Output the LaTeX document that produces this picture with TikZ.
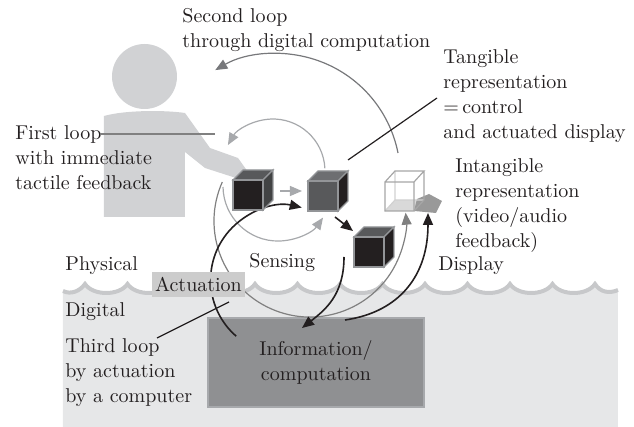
\documentclass[tikz,border=0pt]{standalone}
\usepackage{tikz}
\usetikzlibrary{positioning}
\usetikzlibrary{arrows.meta}

\definecolor{ink}{HTML}{231F20}
\definecolor{persongray}{HTML}{D1D2D4}
\definecolor{digitalgray}{HTML}{E6E7E8}
\definecolor{wavegray}{HTML}{C7C8CA}
\definecolor{infogray}{HTML}{8F9092}
\definecolor{cubemid}{HTML}{58595B}
\definecolor{cubetop}{HTML}{6D6E71}
\definecolor{cubeedge}{HTML}{939598}
\definecolor{loopdark}{HTML}{77787B}
\definecolor{looplight}{HTML}{A7A9AC}

% cube at front top-left corner #1, faces front/top/side
\newcommand\drawcube[4]{
 \filldraw[fill=#3,draw=cubeedge,line width=0.6pt](#1)--++(10,-10)--++(30,0)--++(-10,10)--cycle;
 \filldraw[fill=#4,draw=cubeedge,line width=0.6pt](#1)++(30,0)--++(10,-10)--++(0,30)--++(-10,10)--cycle;
 \filldraw[fill=#2,draw=cubeedge,line width=0.6pt](#1)rectangle++(30,30);
}

\begin{document}
\begin{tikzpicture}[x=0.5pt,y=-0.5pt,
 lbl/.style={anchor=base west,align=left,inner sep=0pt,text=ink,font=\fontsize{10}{12.5}\selectfont},
 tip/.style={-{Triangle[length=6pt,width=5pt]}},
 loopone/.style={tip,draw=looplight,line width=0.6pt},
 looptwo/.style={tip,draw=loopdark,line width=0.6pt},
 loopthree/.style={tip,draw=ink,line width=0.8pt},
 leader/.style={draw=ink,line width=0.6pt}]
\useasboundingbox (0,0) rectangle (634,427);

% digital side below the wave
\fill[digitalgray](63,291) .. controls (71,295) and (80,291) .. (85,284)
 \foreach \k in {0,...,11}{ .. controls ({85+42.5*\k+8},296) and ({85+42.5*\k+34.5},296) .. ({85+42.5*(\k+1)},284)}
 .. controls (600,292) and (609,294) .. (618,290) -- (618,427) -- (63,427) -- cycle;
\draw[wavegray,line width=2pt](63,291) .. controls (71,295) and (80,291) .. (85,284)
 \foreach \k in {0,...,11}{ .. controls ({85+42.5*\k+8},296) and ({85+42.5*\k+34.5},296) .. ({85+42.5*(\k+1)},284)}
 .. controls (600,292) and (609,294) .. (618,290);

% person
\fill[persongray](144.5,76.5) circle[radius=32.5];
\fill[persongray](104,217)--(104,116) .. controls (125,110) and (165,110) .. (185,113)--(210,148)--(238,158)--(248,172)--(236,178)--(205,168)--(185,152)--(185,217)--cycle;

\node[draw=looplight,fill=infogray,line width=0.6pt,minimum width=108pt,minimum height=44.5pt,align=center,text=ink,font=\fontsize{10}{12.5}\selectfont] (info) at (316,362.5) {Information/\\computation};

\coordinate (looponeup) at (324.9,168.3);
\coordinate (looponelow) at (223,187);
\coordinate (looptwoup) at (398,153);
\coordinate (looptwolow) at (222.3,182);
\coordinate (loopthree) at (236.2,336.2);

\draw[loopone](looponeup) arc[start angle=-3,end angle=-150,radius=52];
\draw[loopone](looponelow) arc[start angle=179,end angle=35,radius=55];
\draw[looptwo](looptwoup) arc[start angle=-11.2,end angle=-120,radius=123.4];
\draw[looptwo,draw=gray](looptwolow) arc[start angle=204,end angle=-5,radius=96];
\draw[loopthree](loopthree) arc[start angle=131,end angle=283,radius=74.4];

\coordinate (cubeA) at (233,180);
\coordinate (cubeB) at (308,181);
\coordinate (cubeC) at (354,237);
\coordinate (cubeD) at (385,182);

\drawcube{cubeA}{ink}{cubemid}{cubemid!75!black}
\drawcube{cubeB}{cubemid}{cubetop}{ink}
\drawcube{cubeC}{ink}{cubemid}{ink}

% intangible cube and its shadow
\fill[black!15](cubeD)++(0,29)--++(10,-11)--++(29,0)--++(-10,11)--cycle;
\fill[black!40](414,211)--(417,199)--(429,194)--(442,201)--(436,213)--cycle;
\draw[black!18,line width=0.6pt](cubeD)++(10,-11)--++(0,29)--++(29,0) (cubeD)++(10,18)--++(-10,11);
\draw[black!35,line width=0.6pt](cubeD)rectangle++(29,29) (cubeD)--++(10,-11)--++(29,0)--++(-10,11) (cubeD)++(29,29)--++(10,-11)--++(0,-29);

\coordinate (c1out) at (280,191);
\coordinate (c2in) at (302,191);
\coordinate (c2out) at (335,217);
\coordinate (c3in) at (353,231);
\coordinate (c3low) at (344,257);
\coordinate (infotop) at (302,328);
\coordinate (infoout) at (345,320);
\coordinate (shadow) at (428,213);

\draw[loopone](c1out)--(c2in);
\draw[loopthree](c2out)--(c3in);
\draw[loopthree](c3low) .. controls (344,295) and (325,310) .. (infotop);
\draw[loopthree](infoout) .. controls (400,312) and (428,275) .. (shadow);

\node[fill=black!20,inner sep=1.5pt,minimum height=12.5pt,text=ink,font=\fontsize{10}{12.5}\selectfont] (actuation) at (198.5,284.5) {Actuation};

% multi-line labels sit on the baseline of their last line
\node[lbl] (second) at (182,48) {Second loop\\through digital computation};
\node[lbl] (tangible) at (443,139) {Tangible\\representation\\=\,control\\and actuated display};
\node[lbl] (intangible) at (455,248) {Intangible\\representation\\(video/audio\\feedback)};
\node[lbl] (display) at (438,271) {Display};
\node[lbl] (first) at (15,190) {First loop\\with immediate\\tactile feedback};
\node[lbl] (physical) at (65,271) {Physical};
\node[lbl] (digital) at (65,317) {Digital};
\node[lbl] (third) at (65,403) {Third loop\\by actuation\\by a computer};
\node[lbl] (sensing) at (249,268) {Sensing};

\coordinate (firstend) at (100,134);
\coordinate (firsttip) at (215,134);
\coordinate (tangend) at (437,98);
\coordinate (tangtip) at (348,160);
\coordinate (thirdend) at (157,338);
\coordinate (thirdtip) at (229,302);
\draw[leader,draw=gray](firstend)--(firsttip);
\draw[leader](tangend)--(tangtip);
\draw[leader](thirdend)--(thirdtip);
\end{tikzpicture}
\end{document}
